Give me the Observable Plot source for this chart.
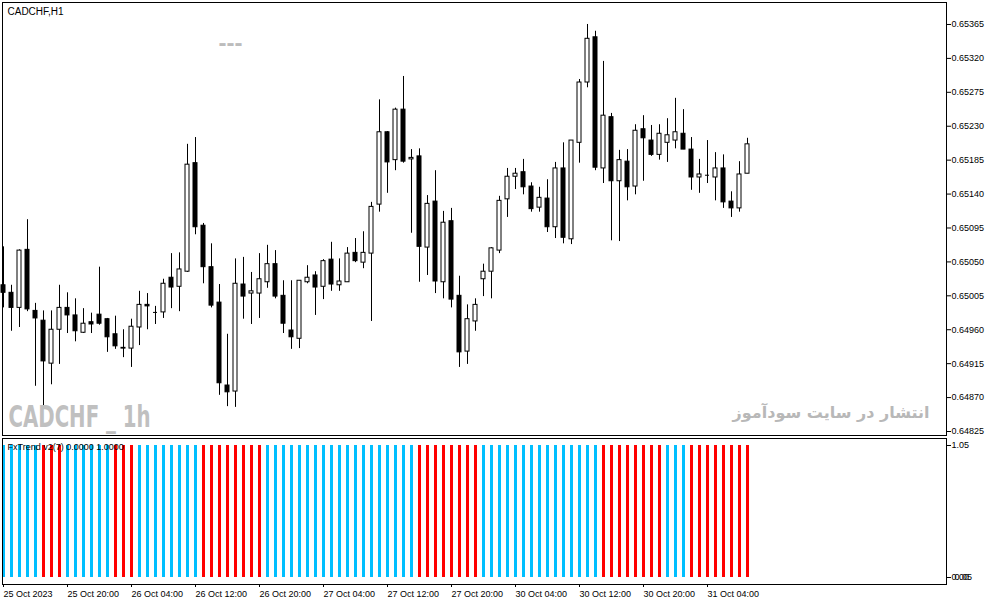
<!DOCTYPE html>
<html><head><meta charset="utf-8">
<script src="https://cdn.jsdelivr.net/npm/d3@7"></script>
<script src="https://cdn.jsdelivr.net/npm/@observablehq/plot@0.6"></script>
<style>
html,body{margin:0;padding:0;background:#fff;}
#wrap{position:relative;width:991px;height:605px;overflow:hidden;background:#fff;}
#wrap svg{position:absolute;left:0;}
</style></head><body><div id="wrap"></div>
<script>
// CADCHF H1 candles (bar index 0 = 25 Oct 2023 12:00)
const opens = [
0.65019,0.65009,0.64989,0.65066,0.64985,0.64972,0.64915,0.64960,0.64989,0.64979,
0.64956,0.64970,0.64980,0.64974,0.64954,0.64936,0.64935,0.64963,0.64993,0.64983,
0.64983,0.65029,0.65017,0.65037,0.65181,0.65098,0.65043,0.64996,0.64886,0.64878,
0.65020,0.65008,0.65008,0.65023,0.65047,0.65005,0.64959,0.64948,0.65023,0.65032,
0.65017,0.65053,0.65019,0.65023,0.65062,0.65049,0.65061,0.65126,0.65222,0.65185,
0.65252,0.65186,0.65190,0.65069,0.65130,0.65023,0.65104,0.65005,0.64931,0.64971,
0.65027,0.65037,0.65065,0.65133,0.65163,0.65169,0.65150,0.65122,0.65134,0.65096,
0.65174,0.65080,0.65208,0.65288,0.65348,0.65174,0.65242,0.65157,0.65183,0.65150,
0.65226,0.65211,0.65192,0.65208,0.65211,0.65220,0.65199,0.65162,0.65165,0.65162,
0.65174,0.65130,0.65121,0.65167];
const highs = [
0.65070,0.65019,0.65066,0.65106,0.64995,0.64985,0.64985,0.65019,0.65009,0.65001,
0.64988,0.64982,0.65043,0.64975,0.64978,0.64960,0.64974,0.65011,0.65008,0.64991,
0.65027,0.65061,0.65062,0.65206,0.65215,0.65101,0.65074,0.65020,0.64954,0.65054,
0.65056,0.65036,0.65061,0.65072,0.65065,0.65025,0.65025,0.65025,0.65045,0.65037,
0.65053,0.65076,0.65054,0.65069,0.65081,0.65090,0.65129,0.65265,0.65223,0.65254,
0.65296,0.65199,0.65200,0.65138,0.65171,0.65117,0.65121,0.65031,0.64993,0.65001,
0.65047,0.65069,0.65137,0.65174,0.65174,0.65186,0.65155,0.65149,0.65159,0.65182,
0.65208,0.65211,0.65292,0.65365,0.65356,0.65316,0.65247,0.65198,0.65199,0.65232,
0.65244,0.65231,0.65232,0.65240,0.65267,0.65252,0.65215,0.65186,0.65211,0.65195,
0.65192,0.65143,0.65183,0.65214];
const lows = [
0.64989,0.64958,0.64963,0.64984,0.64885,0.64859,0.64887,0.64914,0.64955,0.64944,
0.64955,0.64955,0.64966,0.64930,0.64934,0.64923,0.64910,0.64939,0.64960,0.64967,
0.64975,0.64988,0.64984,0.65036,0.65086,0.65021,0.64989,0.64873,0.64858,0.64857,
0.64974,0.64967,0.64975,0.65015,0.65001,0.64955,0.64934,0.64935,0.65021,0.64979,
0.65000,0.65011,0.65011,0.65023,0.65049,0.65041,0.64971,0.65116,0.65141,0.65171,
0.65181,0.65088,0.65023,0.65032,0.65008,0.65001,0.64989,0.64910,0.64914,0.64958,
0.65004,0.65001,0.65061,0.65109,0.65146,0.65139,0.65116,0.65116,0.65089,0.65081,
0.65074,0.65073,0.65181,0.65281,0.65171,0.65154,0.65078,0.65077,0.65131,0.65139,
0.65157,0.65190,0.65185,0.65182,0.65200,0.65199,0.65145,0.65141,0.65154,0.65131,
0.65121,0.65109,0.65116,0.65167];
const closes = [
0.65009,0.64989,0.65065,0.64987,0.64975,0.64918,0.64960,0.64989,0.64979,0.64958,
0.64968,0.64967,0.64968,0.64950,0.64938,0.64935,0.64964,0.64993,0.64991,0.64983,
0.65021,0.65016,0.65040,0.65179,0.65096,0.65043,0.64992,0.64889,0.64877,0.65021,
0.65004,0.65011,0.65027,0.65047,0.65004,0.64968,0.64950,0.65025,0.65029,0.65016,
0.65051,0.65020,0.65024,0.65061,0.65051,0.65062,0.65123,0.65222,0.65182,0.65252,
0.65183,0.65188,0.65070,0.65127,0.65024,0.65102,0.65000,0.64930,0.64974,0.64993,
0.65037,0.65068,0.65131,0.65163,0.65167,0.65149,0.65120,0.65135,0.65096,0.65174,
0.65082,0.65211,0.65288,0.65346,0.65175,0.65244,0.65157,0.65185,0.65149,0.65224,
0.65214,0.65192,0.65220,0.65218,0.65222,0.65199,0.65162,0.65166,0.65165,0.65174,
0.65129,0.65121,0.65166,0.65206];
// FxTrend state per bar: 1 = up (blue), 0 = down (red)
const trendState = [
1,1,1,1,1, 0,0,0, 1,1,1,1,1,1, 0,0,0, 1,1,1,1,1,1,1,1, 0,0,0,0,0,0,0,0,
1,1,1,1,1,1,1,1,1,1,1,1,1,1,1,1,1,1,1, 0,0,0,0,0,0,0,0,
1,1,1,1,1,1,1,1,1,1,1,1,1,1,1, 0,0,0,0,0,0,0,0, 1,1,1, 0,0,0,0,0,0,0,0];
const trendValue = 1;
const priceTicks = [0.65365,0.65320,0.65275,0.65230,0.65185,0.65140,0.65095,0.65050,0.65005,0.64960,0.64915,0.64870,0.64825];
const timeTickIdx = [0,8,16,24,32,40,48,56,64,72,80,88];
const timeTickLabels = ["25 Oct 2023","25 Oct 20:00","26 Oct 04:00","26 Oct 12:00","26 Oct 20:00","27 Oct 04:00","27 Oct 12:00","27 Oct 20:00","30 Oct 04:00","30 Oct 12:00","30 Oct 20:00","31 Oct 04:00"];

const candles = opens.map((o, i) => ({i, open: o, high: highs[i], low: lows[i], close: closes[i]}));
const bear = candles.filter(d => d.close < d.open);
const bull = candles.filter(d => d.close > d.open);
const doji = candles.filter(d => d.close === d.open);
const bars = trendState.map((s, i) => ({i, s, v: trendValue}));

const FONT = "Liberation Sans, Arial, sans-serif";
const xDomain = [-0.125, 117.875];

const main = Plot.plot({
  width: 991, height: 437,
  marginTop: 2, marginBottom: 2, marginLeft: 2, marginRight: 45,
  style: {background: "white", color: "black", fontFamily: FONT, fontSize: "9px"},
  x: {type: "linear", domain: xDomain, axis: null},
  y: {domain: [0.648197, 0.6539415], axis: "right", ticks: priceTicks, tickFormat: d => d.toFixed(5), tickSize: 4, tickPadding: 1, label: null},
  marks: [
    Plot.ruleX(candles, {x: "i", y1: "low", y2: "high", stroke: "black", strokeWidth: 1}),
    Plot.rect(bull, {x1: d => d.i - 0.25, x2: d => d.i + 0.25, y1: "open", y2: "close", fill: "white", stroke: "black", strokeWidth: 1}),
    Plot.rect(bear, {x1: d => d.i - 0.25, x2: d => d.i + 0.25, y1: "open", y2: "close", fill: "black", stroke: "black", strokeWidth: 1}),
    Plot.ruleY(doji, {x1: d => d.i - 0.25, x2: d => d.i + 0.25, y: "open", stroke: "black", strokeWidth: 1}),
    Plot.frame({stroke: "black"}),
    Plot.text(["CADCHF,H1"], {frameAnchor: "top-left", dx: 5, dy: 5, textAnchor: "start", lineAnchor: "top", fontSize: 10, fill: "black", fontFamily: FONT}),
    Plot.text(["---"], {frameAnchor: "top-left", dx: 216, dy: 31, textAnchor: "start", lineAnchor: "top", fontSize: 24, fontWeight: "bold", fill: "#bcbcbc", fontFamily: FONT}),
    Plot.text(["CADCHF _ 1h"], {frameAnchor: "top-left", dx: 6, dy: 403, textAnchor: "start", lineAnchor: "top", fontSize: 30, fontWeight: "bold", fill: "#c0c0c0", fontFamily: "DejaVu Sans Condensed, DejaVu Sans, sans-serif"}),
    Plot.text(["انتشار در سایت سودآموز"], {frameAnchor: "top-right", dx: -17, dy: 404, textAnchor: "end", lineAnchor: "top", fontSize: 16, fontWeight: "bold", fill: "#b8b8b8", fontFamily: "DejaVu Sans, sans-serif"})
  ]
});
main.style.top = "0px";
d3.select(main).selectAll("text").each(function() {
  if (this.textContent === "CADCHF _ 1h") {
    d3.select(this).attr("textLength", 142).attr("lengthAdjust", "spacingAndGlyphs");
  }
});

const ind = Plot.plot({
  width: 991, height: 169,
  marginTop: 2, marginBottom: 21, marginLeft: 2, marginRight: 45,
  style: {background: "white", color: "black", fontFamily: FONT, fontSize: "9px"},
  x: {type: "linear", domain: xDomain, axis: null},
  y: {domain: [-0.053, 1.053], axis: null},
  marks: [
    Plot.ruleX(bars.filter(d => d.s === 1), {x: "i", y1: 0, y2: "v", stroke: "#00BFFF", strokeWidth: 3}),
    Plot.ruleX(bars.filter(d => d.s === 0), {x: "i", y1: 0, y2: "v", stroke: "#FF0000", strokeWidth: 3}),
    Plot.frame({stroke: "black"}),
    Plot.axisX(timeTickIdx, {anchor: "bottom", label: null, tickSize: 3, tickPadding: 3, textAnchor: "start", tickFormat: d => timeTickLabels[timeTickIdx.indexOf(d)], fontSize: 9, fill: "black"}),
    Plot.axisY([1, 0], {anchor: "right", label: null, tickSize: 4, tickPadding: 1, tickFormat: d => d === 1 ? "1.05" : "0.00", fontSize: 9, fill: "black"}),
    Plot.text([0], {y: d => d, frameAnchor: "right", dx: 8, textAnchor: "start", text: () => "0.05", fontSize: 9, fill: "black"}),
    Plot.text(["FxTrend v2(7) 0.0000 1.0000"], {frameAnchor: "top-left", dx: 5, dy: 5.5, textAnchor: "start", lineAnchor: "top", fontSize: 9, fill: "black", fontFamily: FONT})
  ]
});
ind.style.top = "436px";

const wrap = document.getElementById("wrap");
wrap.appendChild(main);
wrap.appendChild(ind);
</script></body></html>
